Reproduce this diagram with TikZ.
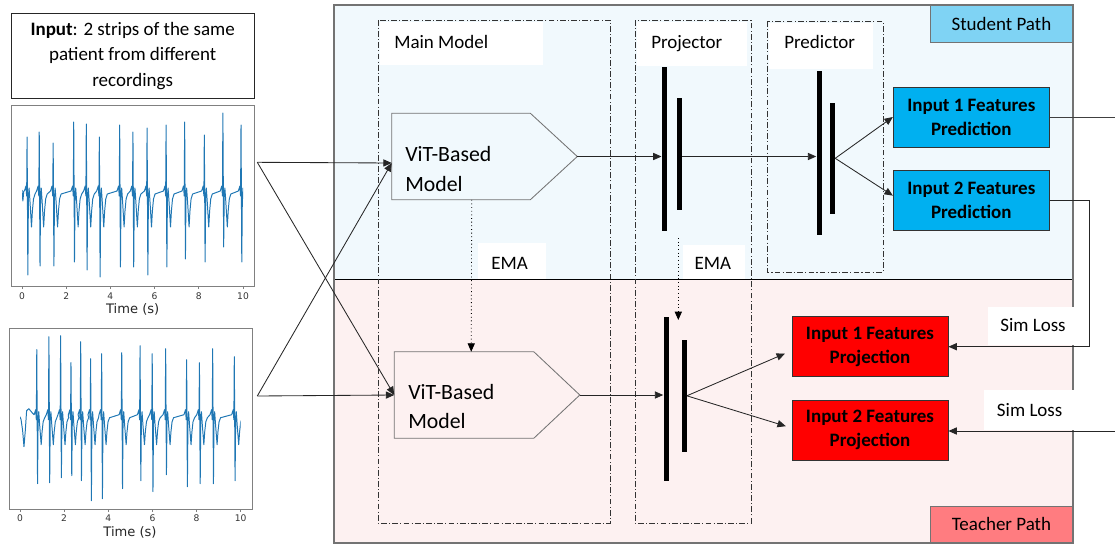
\documentclass[tikz,border=0pt]{standalone}
\usepackage{fontspec}
\setmainfont{Carlito}
\newfontfamily\plotfont{DejaVu Sans}
\usetikzlibrary{positioning, calc, arrows.meta}
\newcommand{\pxu}{0.025cm}
\definecolor{studbg}{HTML}{F1F9FD}
\definecolor{teachbg}{HTML}{FDF1F1}
\definecolor{studtag}{HTML}{7FD3F4}
\definecolor{teachtag}{HTML}{FF7C80}
\definecolor{predfill}{HTML}{00B0F0}
\definecolor{projfill}{HTML}{FF0000}
\definecolor{ecgblue}{HTML}{1F77B4}
\tikzset{
    >={Triangle[length=2.1mm, width=1.8mm]},    % filled arrow heads
    node distance = 0.57cm,                     % gap between the stacked feature boxes
    every node/.style={font=\fontsize{13.5}{17.7}\selectfont},
    arr/.style={->, line width=0.6pt, draw=black!85},
    link/.style={line width=0.6pt, draw=black!75},
    ema/.style={->, dotted, line width=0.6pt},
    block/.style={draw=black!80, line width=0.6pt, dash pattern=on 4pt off 1.6pt on 0.8pt off 1.6pt},
    vitline/.style={draw=black!55, line width=0.6pt},
    vitbox/.style={minimum width=185*\pxu, minimum height=86*\pxu, inner sep=0pt},
    vittext/.style={anchor=west, align=left, inner sep=0pt, font=\fontsize{15.5}{21}\selectfont},
    bar/.style={fill=black, inner sep=0pt, minimum width=5*\pxu},
    featbox/.style={draw=black!80, line width=0.6pt, minimum width=156*\pxu, minimum height=60*\pxu,
        align=center, inner sep=0pt, font=\bfseries\fontsize{13.5}{17}\selectfont},
    pathtag/.style={draw=black!55, line width=0.8pt, minimum width=142*\pxu, minimum height=37*\pxu, inner sep=0pt},
    lbl/.style={anchor=base west, inner sep=0pt},
    ecg/.style={draw=ecgblue, line width=0.7pt, line join=round},
    axisframe/.style={draw=black!50, line width=0.6pt},
    ticklbl/.style={inner sep=0pt, font=\plotfont\fontsize{6.5}{8}\selectfont, text=black!80},
    axislbl/.style={inner sep=0pt, font=\plotfont\fontsize{9.3}{11}\selectfont, text=black!85}
}

\begin{document}
\begin{tikzpicture}[x=\pxu, y=-\pxu]
    \useasboundingbox (0,0) rectangle (1115,546);

    % input text and the two ECG strips
    \node [draw=black!85, line width=0.8pt, minimum width=243*\pxu, minimum height=85*\pxu, align=center, inner sep=0pt,
        font=\fontsize{13.5}{18}\selectfont]
        (inp) at (132.7,56) {\textbf{Input}: 2 strips of the same\\patient from different\\recordings};

    \draw [axisframe] (11,105) rectangle (254,286);
    \begin{scope}[shift={(22,193)}, xscale=22.1]
        \begin{scope}
            \clip (0,-95) rectangle (10,95);
            \draw [ecg] (0,-3) -- (0.04,8) -- (0.08,-2)
                \foreach \t/\p/\q in {0.23/-56/82, 0.78/-61/73, 1.41/-50/73, 2.34/-71/69, 2.91/-69/77,
                    3.5/-56/84, 4.42/-68/74, 5.02/-61/74, 5.66/-65/82, 6.52/-68/74, 7.36/-71/66,
                    8.25/-58/69, 9.09/-80/54, 9.91/-68/69}
                { -- (\t-0.12,-2) -- (\t-0.05,-7) -- (\t-0.02,3) -- (\t,\p) -- (\t+0.035,\q) -- (\t+0.06,4)
                  -- (\t+0.09,-5) -- (\t+0.13,8) -- (\t+0.2,34) -- (\t+0.24,18) -- (\t+0.29,6) -- (\t+0.36,1) }
                -- (10.3,-3);
        \end{scope}
        \foreach \k in {0,2,...,10} {
            \draw [axisframe] (\k,93) -- (\k,96);
            \node [ticklbl] (tka\k) at (\k,103) {\k};
        }
    \end{scope}
    \node [axislbl] (timea) at (132.7,309) {Time (s)};

    \draw [axisframe] (9,328) rectangle (252,509);
    \begin{scope}[shift={(20,416.7)}, xscale=22.07]
        \begin{scope}
            \clip (0,-95) rectangle (10,95);
            \draw [ecg] (0,0) -- (0.05,3) -- (0.12,14) -- (0.18,30) -- (0.24,14) -- (0.3,-6) -- (0.4,-8) -- (0.55,-4)
                \foreach \t/\p/\q in {0.76/-67/67, 1.31/-80/66, 1.84/-81/61, 2.31/-54/59, 2.75/-75/64,
                    3.2/-58/84, 3.7/-63/82, 4.61/-64/72, 5.44/-71/64, 5.99/-63/75, 6.6/-68/58,
                    7.55/-57/70, 8.13/-54/67, 8.73/-68/67, 9.71/-60/64}
                { -- (\t-0.12,-2) -- (\t-0.05,-7) -- (\t-0.02,3) -- (\t,\p) -- (\t+0.035,\q) -- (\t+0.06,4)
                  -- (\t+0.09,-5) -- (\t+0.13,8) -- (\t+0.2,28) -- (\t+0.24,15) -- (\t+0.29,5) -- (\t+0.36,1) }
                -- (10.3,-3);
        \end{scope}
        \foreach \k in {0,2,...,10} {
            \draw [axisframe] (\k,92.3) -- (\k,95.3);
            \node [ticklbl] (tkb\k) at (\k,101.6) {\k};
        }
    \end{scope}
    \node [axislbl] (timeb) at (130,532) {Time (s)};

    % student / teacher area
    \fill [studbg] (334,5) rectangle (1073,280);
    \fill [teachbg] (334,280) rectangle (1073,543);
    \draw [black, line width=0.5pt] (334,279.5) -- (1073,279.5);
    \draw [draw=black!55, line width=1pt] (334,5) rectangle (1073,543);

    \draw [block] (378,20) rectangle (610,523);
    \draw [block] (635,20) rectangle (751,523);
    \draw [block] (767,21) rectangle (883,272);
    \fill [white] (380,21.5) rectangle (543,65);
    \fill [white] (637,21.5) rectangle (747,66);
    \fill [white] (769,22.5) rectangle (873,69);
    \node [lbl] (mainlbl) at (394,48.3) {Main Model};
    \node [lbl] (prjlbl) at (651,48.3) {Projector};
    \node [lbl] (prelbl) at (784,48.3) {Predictor};

    \node [pathtag, fill=studtag, anchor=north east] (stud) at (1073,5) {Student Path};
    \node [pathtag, fill=teachtag, anchor=south east, minimum height=36*\pxu] (teach) at (1073,543) {Teacher Path};

    % ViT models
    \node [vitbox] (vitS) at (484.5,156.5) {};
    \draw [vitline] (vitS.north west) -- ($(vitS.north east)+(-47,0)$) -- (vitS.east)
        -- ($(vitS.south east)+(-47,0)$) -- (vitS.south west) -- cycle;
    \node [vittext] (vitStxt) at (405,169) {ViT-Based\\Model};

    \node [vitbox] (vitT) at (487,395) {};
    \draw [vitline] (vitT.north west) -- ($(vitT.north east)+(-46,0)$) -- (vitT.east)
        -- ($(vitT.south east)+(-46,0)$) -- (vitT.south west) -- cycle;
    \node [vittext] (vitTtxt) at (408,406.5) {ViT-Based\\Model};

    % projector and predictor layers
    \node [bar, minimum height=164*\pxu] (prjS1) at (664.3,149) {};
    \node [bar, minimum height=112*\pxu, minimum width=4.5*\pxu] (prjS2) at (679.3,154) {};
    \node [bar, minimum height=164*\pxu] (preS1) at (819,153) {};
    \node [bar, minimum height=111*\pxu, minimum width=4.5*\pxu] (preS2) at (832.7,158.3) {};
    \node [bar, minimum height=164*\pxu] (prjT1) at (666,398.7) {};
    \node [bar, minimum height=112*\pxu, minimum width=4.5*\pxu] (prjT2) at (684.3,395.8) {};

    % feature outputs
    \node [featbox, fill=predfill] (pred1) at (971.3,117) {Input 1 Features\\Prediction};
    \node [featbox, fill=predfill, below=of pred1] (pred2) {Input 2 Features\\Prediction};
    \node [featbox, fill=projfill] (proj1) at (870,346.7) {Input 1 Features\\Projection};
    \node [featbox, fill=projfill, below=0.56cm of proj1] (proj2) {Input 2 Features\\Projection};

    % inputs into both models
    \coordinate (in1) at (257.3,162.3);
    \coordinate (in2) at (257.3,396);
    \draw [arr] (in1) -- ($(vitS.west)+(0,6.5)$);
    \draw [arr] (in1) -- (vitT.west);
    \draw [arr] (in2) -- ($(vitS.west)+(0,6.5)$);
    \draw [arr] (in2) -- (vitT.west);

    \draw [arr] (vitS.east) -- (vitS.east -| prjS1.west);
    \draw [arr] (prjS2.east |- vitS.east) -- (vitS.east -| preS1.west);
    \draw [arr] (preS2.east) -- (pred1.west);
    \draw [arr] (preS2.east) -- ($(pred2.west)+(0,-5)$);

    \draw [arr] (vitT.east) -- (vitT.east -| prjT1.west);
    \draw [arr, shorten >=1.8mm] (prjT2.east) -- ($(proj1.west)+(0,4)$);
    \draw [arr, shorten >=1.5mm] (prjT2.east) -- ($(proj2.west)+(0,-2)$);

    % EMA updates
    \draw [ema] ($(vitS.south west)+(80,0)$) -- ($(vitT.north west)+(77,0)$);
    \coordinate (emaA) at (678.3,238);
    \coordinate (emaB) at (678.3,320);
    \draw [ema] (emaA) -- (emaB);
    \fill [white] (478,243) rectangle (546,279);
    \node [lbl] (ema1) at (491,269) {EMA};
    \fill [white] (683,245) rectangle (745,279);
    \node [lbl] (ema2) at (694.3,269) {EMA};

    % similarity losses
    \fill [white] (988,307) rectangle (1090,345);
    \node [lbl] (loss1) at (1000,331.7) {Sim Loss};
    \fill [white] (984,390) rectangle (1090,429.5);
    \node [lbl] (loss2) at (996.7,416.7) {Sim Loss};
    \coordinate (out1) at (1115,117);
    \coordinate (out2) at (1115,431);
    \draw [link] (pred1.east) -- (out1);
    \draw [arr] (pred2.east) -- ++(40,0) |- (proj1.east);
    \draw [arr] (out2) -- (out2 -| proj2.east);
\end{tikzpicture}
\end{document}
